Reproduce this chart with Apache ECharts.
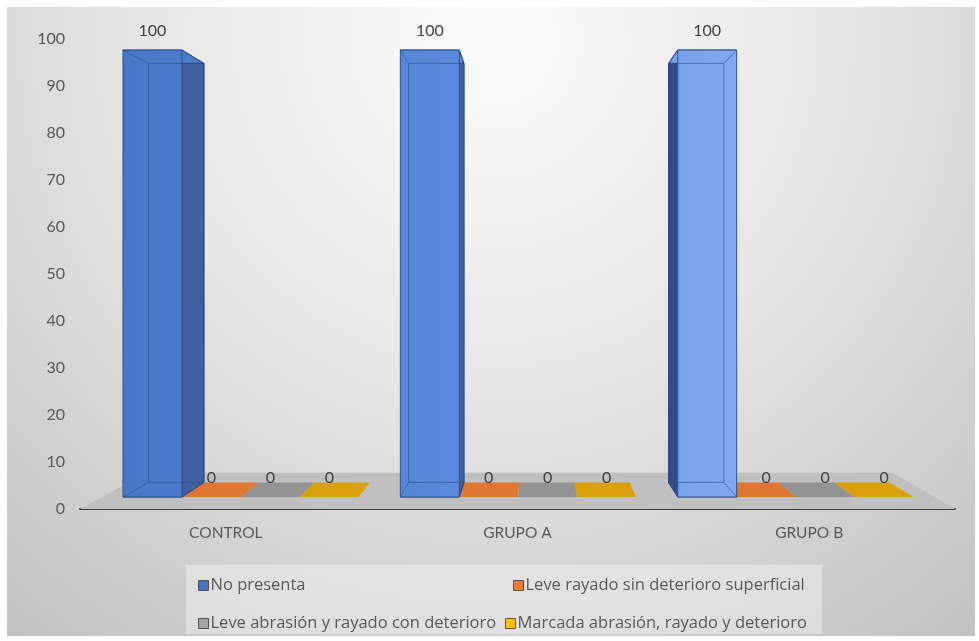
<!DOCTYPE html>
<html>
<head>
<meta charset="utf-8">
<script src="https://cdn.jsdelivr.net/npm/echarts@6/dist/echarts.min.js"></script>
<style>
  html, body { margin: 0; padding: 0; background: #ffffff; }
  #chart { width: 979px; height: 641px; }
</style>
</head>
<body>
<div id="chart"></div>
<script>
// Categories and values
const categories = ['CONTROL', 'GRUPO A', 'GRUPO B'];
const seriesNames = [
  'No presenta',
  'Leve rayado sin deterioro superficial',
  'Leve abrasión y rayado con deterioro',
  'Marcada abrasión, rayado y deterioro'
];
const noPresenta = [100, 100, 100];
const leveRayado = [0, 0, 0];
const leveAbrasion = [0, 0, 0];
const marcadaAbrasion = [0, 0, 0];
const axisMin = 0;
const axisMax = 100;
const axisStep = 10;

const seriesValues = [noPresenta, leveRayado, leveAbrasion, marcadaAbrasion];
const legendColors = ['#4472C4', '#ED7D31', '#A5A5A5', '#FFC000'];
const flatColors = [null, '#df7631', '#939393', '#dba10c'];

// Perspective depth factors (1 = front edge of the floor)
const FRONT = 0.951;
const BACK = 0.8915;
const FLOOR_BACK = 0.852;
const SLOT_FRACTION = 0.85;
const FONT = 'Lato, "Liberation Sans", sans-serif';
const LEGEND_FONT = '"Open Sans", "Noto Sans", sans-serif';

function vanishing(cs) {
  return [cs.x + cs.width * 0.517, cs.y + cs.height * 0.479];
}
function proj(p, s, vp) {
  return [vp[0] + s * (p[0] - vp[0]), vp[1] + s * (p[1] - vp[1])];
}
function poly(points, style, z2) {
  return { type: 'polygon', shape: { points: points }, style: style, z2: z2 || 0 };
}
function seg(p, q, z2) {
  return {
    type: 'line', z2: z2,
    shape: { x1: p[0], y1: p[1], x2: q[0], y2: q[1] },
    style: { stroke: 'rgba(40,72,135,0.55)', lineWidth: 1 }
  };
}

function makeRenderer(k) {
  return function (params, api) {
    const cat = api.value(0);
    const val = api.value(1);
    const base = api.coord([cat, 0]);
    const topP = api.coord([cat, val]);
    const band = api.size([1, 0])[0];
    const slot = band * SLOT_FRACTION / 4;
    const a = base[0] - 2 * slot + k * slot;
    const b = a + slot;
    const cs = params.coordSys;
    const vp = vanishing(cs);
    const corners = function (s) {
      return {
        tl: proj([a, topP[1]], s, vp),
        tr: proj([b, topP[1]], s, vp),
        br: proj([b, base[1]], s, vp),
        bl: proj([a, base[1]], s, vp)
      };
    };
    const F = corners(FRONT);
    const B = corners(BACK);
    const children = [];

    if (val === 0) {
      children.push(poly([F.bl, F.br, B.br, B.bl], { fill: flatColors[k] }));
    } else {
      const grad = new echarts.graphic.LinearGradient(cs.x, 0, cs.x + cs.width, 0, [
        { offset: 0, color: '#4674c6' },
        { offset: 0.5, color: '#5d8de0' },
        { offset: 1, color: '#a6c8fb' }
      ], true);
      const edge = { stroke: '#2f528f', lineWidth: 1 };
      children.push(poly([B.tl, B.tr, B.br, B.bl], Object.assign({ fill: grad }, edge), 0));
      children.push(poly([F.bl, F.br, B.br, B.bl], Object.assign({ fill: grad }, edge), 1));
      if (vp[0] > F.tr[0] + 2) {
        children.push(poly([F.tr, B.tr, B.br, F.br], Object.assign({ fill: '#41609d' }, edge), 2));
      } else if (vp[0] < F.tl[0] - 2) {
        children.push(poly([F.tl, B.tl, B.bl, F.bl], Object.assign({ fill: '#2f4c88' }, edge), 2));
      }
      children.push(poly([F.tl, F.tr, B.tr, B.tl], Object.assign({ fill: grad }, edge), 3));
      children.push(poly([F.tl, F.tr, F.br, F.bl], Object.assign({ fill: grad }, edge), 4));
      // edges seen through the translucent front face
      children.push(seg(B.tl, B.tr, 5), seg(B.tr, B.br, 5), seg(B.br, B.bl, 5), seg(B.bl, B.tl, 5));
      children.push(seg(F.tl, B.tl, 5), seg(F.tr, B.tr, 5), seg(F.br, B.br, 5), seg(F.bl, B.bl, 5));
    }

    children.push({
      type: 'text',
      x: (F.tl[0] + F.tr[0]) / 2,
      y: F.tl[1] - 19,
      z2: 10,
      style: {
        text: String(val),
        fill: '#404040',
        font: '16px ' + FONT,
        align: 'center',
        verticalAlign: 'middle'
      }
    });
    return { type: 'group', children: children };
  };
}

function renderFloor(params, api) {
  const cs = params.coordSys;
  const vp = vanishing(cs);
  const y0 = api.coord([0, 0])[1];
  const fl = [cs.x, y0];
  const fr = [cs.x + cs.width, y0];
  const bl = proj(fl, FLOOR_BACK, vp);
  const br = proj(fr, FLOOR_BACK, vp);
  return poly([fl, fr, br, bl], { fill: '#c0c0c0' });
}

const series = [{
  type: 'custom',
  name: 'floor',
  silent: true,
  z: 1,
  renderItem: renderFloor,
  data: [[0, 0]],
  encode: { x: 0, y: 1 }
}];
seriesNames.forEach(function (name, k) {
  series.push({
    type: 'custom',
    name: name,
    z: k === 0 ? 4 : 3,
    itemStyle: { color: legendColors[k] },
    renderItem: makeRenderer(k),
    encode: { x: 0, y: 1 },
    data: categories.map(function (c, i) { return [i, seriesValues[k][i]]; })
  });
});

function legendAt(name, left, top) {
  return {
    data: [name],
    left: left,
    top: top,
    itemWidth: 10,
    itemHeight: 10,
    selectedMode: false,
    icon: 'rect',
    itemStyle: { borderColor: '#555555', borderWidth: 1 },
    textStyle: { fontFamily: LEGEND_FONT, fontSize: 16.5, color: '#595959', padding: [0, 0, 0, -3] }
  };
}

const chart = echarts.init(document.getElementById('chart'), null, { renderer: 'canvas' });
chart.setOption({
  backgroundColor: '#ffffff',
  animation: false,
  graphic: [
    {
      type: 'rect', z: -10, silent: true,
      shape: { x: 7, y: 7, width: 968, height: 629 },
      style: {
        fill: new echarts.graphic.RadialGradient(490, 40, 760, [
          { offset: 0, color: '#fbfbfb' },
          { offset: 0.45, color: '#e7e7e7' },
          { offset: 1, color: '#c2c2c2' }
        ], true)
      }
    },
    {
      type: 'rect', z: -9, silent: true,
      shape: { x: 186, y: 565, width: 636, height: 69 },
      style: { fill: 'rgba(255,255,255,0.35)' }
    }
  ],
  grid: { left: 80, right: 24, top: 39, bottom: 132, containLabel: false },
  xAxis: {
    type: 'category',
    data: categories,
    axisLine: { show: true, lineStyle: { color: '#404040', width: 2 } },
    axisTick: { show: false },
    axisLabel: { fontFamily: FONT, fontSize: 15.5, color: '#595959', margin: 16 },
    splitLine: { show: false }
  },
  yAxis: {
    type: 'value',
    min: axisMin,
    max: axisMax,
    interval: axisStep,
    axisLine: { show: false },
    axisTick: { show: false },
    splitLine: { show: false },
    axisLabel: { fontFamily: FONT, fontSize: 16, color: '#595959', margin: 15 }
  },
  legend: [
    legendAt(seriesNames[0], 193, 572),
    legendAt(seriesNames[1], 508, 572),
    legendAt(seriesNames[2], 193, 610),
    legendAt(seriesNames[3], 500, 610)
  ],
  series: series
});
</script>
</body>
</html>
